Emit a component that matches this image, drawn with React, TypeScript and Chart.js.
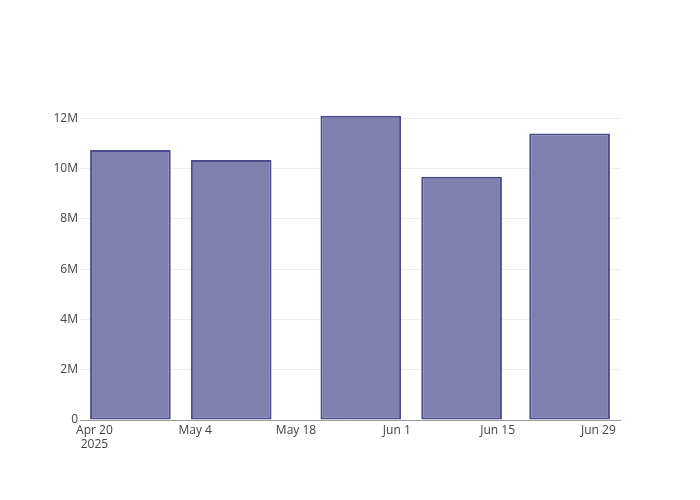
import React, { useEffect, useRef } from "react";
import { Chart, registerables } from "chart.js";

Chart.register(...registerables);

const DAY = 86400000;
const d = (y: number, m: number, day: number) => Date.UTC(y, m - 1, day) / DAY;

// Bar dates (period centers) and values
const barDates: number[] = [d(2025, 4, 25), d(2025, 5, 9), d(2025, 5, 27), d(2025, 6, 10), d(2025, 6, 25)];
const barValues: number[] = [10.74e6, 10.34e6, 12.1e6, 9.68e6, 11.4e6];

// Axis settings
const xTickDates: number[] = [d(2025, 4, 20), d(2025, 5, 4), d(2025, 5, 18), d(2025, 6, 1), d(2025, 6, 15), d(2025, 6, 29)];
const yTickValues: number[] = [0, 2e6, 4e6, 6e6, 8e6, 10e6, 12e6];
const xMin = d(2025, 4, 18);
const xMax = d(2025, 7, 2);
const yMax = 12.73e6;

const MONTHS = ["Jan", "Feb", "Mar", "Apr", "May", "Jun", "Jul", "Aug", "Sep", "Oct", "Nov", "Dec"];

function fmtDate(v: number, first: boolean): string | string[] {
  const dt = new Date(v * DAY);
  const s = `${MONTHS[dt.getUTCMonth()]} ${dt.getUTCDate()}`;
  return first ? [s, String(dt.getUTCFullYear())] : s;
}

export default function App() {
  const ref = useRef<HTMLCanvasElement | null>(null);
  useEffect(() => {
    if (!ref.current) return;
    const font = { family: "'Open Sans', 'DejaVu Sans', sans-serif", size: 12 };
    const chart = new Chart(ref.current, {
      type: "bar",
      data: {
        datasets: [
          {
            data: barDates.map((x, i) => ({ x, y: barValues[i] })),
            backgroundColor: "#7f7fb0",
            borderColor: "#4a4a8c",
            borderWidth: 2,
            borderSkipped: false,
            categoryPercentage: 1,
            barPercentage: 0.8,
          },
        ],
      },
      options: {
        animation: false,
        responsive: false,
        maintainAspectRatio: false,
        layout: { padding: { left: 0, right: 80, top: 100, bottom: 0 } },
        plugins: { legend: { display: false }, tooltip: { enabled: false } },
        scales: {
          x: {
            type: "linear",
            min: xMin,
            max: xMax,
            offset: false,
            grid: { display: false, drawTicks: false },
            border: { display: true, color: "#999", width: 1 },
            afterBuildTicks: (scale: any) => {
              scale.ticks = xTickDates.map((v) => ({ value: v }));
            },
            afterFit: (scale: any) => {
              scale.height = 80;
            },
            ticks: {
              font,
              color: "#444",
              padding: 3,
              maxRotation: 0,
              autoSkip: false,
              callback: (v: any, i: number) => fmtDate(Number(v), i === 0),
            },
          },
          y: {
            min: 0,
            max: yMax,
            grid: { color: "#eee", drawTicks: false, lineWidth: 1 },
            border: { display: false },
            afterBuildTicks: (scale: any) => {
              scale.ticks = yTickValues.map((v) => ({ value: v }));
            },
            afterFit: (scale: any) => {
              scale.width = 80;
            },
            ticks: {
              font,
              color: "#444",
              padding: 2,
              autoSkip: false,
              callback: (v: any) => (Number(v) === 0 ? "0" : `${Number(v) / 1e6}M`),
            },
          },
        },
      },
    });
    return () => chart.destroy();
  }, []);
  return (
    <div style={{ position: "fixed", left: 0, top: 0, width: 700, height: 500, background: "#fff" }}>
      <canvas ref={ref} width={700} height={500} style={{ width: 700, height: 500 }} />
    </div>
  );
}
